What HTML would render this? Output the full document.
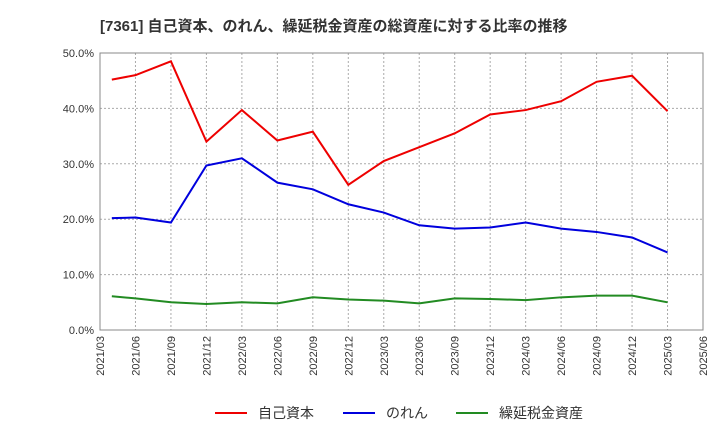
<!DOCTYPE html>
<html><head><meta charset="utf-8"><style>
body{margin:0;background:#fff;}
svg{display:block;font-family:"Liberation Sans","Noto Sans CJK JP",sans-serif;}
</style></head><body>
<svg id="chart" width="720" height="440" xmlns="http://www.w3.org/2000/svg">
<text x="100" y="31" font-size="15" font-weight="bold" fill="#333">[7361]  自己資本、のれん、繰延税金資産の総資産に対する比率の推移</text>
<g id="grid"></g><g id="axes"></g><g id="series"></g>
<g font-size="14" fill="#333">
<line x1="215" y1="413" x2="247" y2="413" stroke="#e00" stroke-width="2"/><text x="258" y="418">自己資本</text>
<line x1="343" y1="413" x2="375" y2="413" stroke="#00d" stroke-width="2"/><text x="386" y="418">のれん</text>
<line x1="456" y1="413" x2="488" y2="413" stroke="#228b22" stroke-width="2"/><text x="499" y="418">繰延税金資産</text>
</g>
</svg>
<script>
const xTicks=["2021/03","2021/06","2021/09","2021/12","2022/03","2022/06","2022/09","2022/12","2023/03","2023/06","2023/09","2023/12","2024/03","2024/06","2024/09","2024/12","2025/03","2025/06"];
const yTicks=[0,10,20,30,40,50];
const pointMonths=[1,3,6,9,12,15,18,21,24,27,30,33,36,39,42,45,48];
const equity=[45.2,46.0,48.5,34.0,39.7,34.2,35.8,26.2,30.5,33.0,35.5,38.9,39.7,41.3,44.8,45.9,39.5];
const goodwill=[20.2,20.3,19.4,29.7,31.0,26.6,25.4,22.7,21.2,18.9,18.3,18.5,19.4,18.3,17.7,16.7,14.0];
const dta=[6.1,5.7,5.0,4.7,5.0,4.8,5.9,5.5,5.3,4.8,5.7,5.6,5.4,5.9,6.2,6.2,5.0];
const L=100,R=703,T=53,B=330,NS="http://www.w3.org/2000/svg";
const x=m=>L+(R-L)*m/51, y=v=>B-(B-T)*v/50;
function mk(tag,attrs,parent){const e=document.createElementNS(NS,tag);for(const k in attrs)e.setAttribute(k,attrs[k]);document.getElementById(parent).appendChild(e);return e;}
const frame=mk('rect',{x:L,y:T,width:R-L,height:B-T,fill:'none',stroke:'#888'},'axes');


yTicks.forEach(v=>{
 if(v>0&&v<50){const g=mk('line',{x1:L,x2:R,y1:y(v),y2:y(v),stroke:'#aaa','stroke-dasharray':'2,2'},'grid');
 
 }
 const t=mk('text',{x:L-6,y:y(v)+4,'text-anchor':'end','font-size':11,fill:'#333'},'axes');t.textContent=v.toFixed(1)+'%';
 
 
});
xTicks.forEach((s,i)=>{
 const xx=x(i*3);
 if(i>0&&i<xTicks.length-1){const g=mk('line',{x1:xx,x2:xx,y1:T,y2:B,stroke:'#aaa','stroke-dasharray':'2,2'},'grid');
 
 }
 const t=mk('text',{x:0,y:0,'text-anchor':'end','font-size':11,fill:'#333',transform:`translate(${xx+4},${B+6}) rotate(-90)`},'axes');t.textContent=s;
 
 
});
[[equity,'#e00','equity-line'],[goodwill,'#00d','goodwill-line'],[dta,'#228b22','deferred-tax-assets-line']].forEach(([d,c,n])=>{
 const p=mk('polyline',{points:d.map((v,i)=>x(pointMonths[i])+','+y(v)).join(' '),fill:'none',stroke:c,'stroke-width':2},'series');
 
 
});
</script>
</body></html>
